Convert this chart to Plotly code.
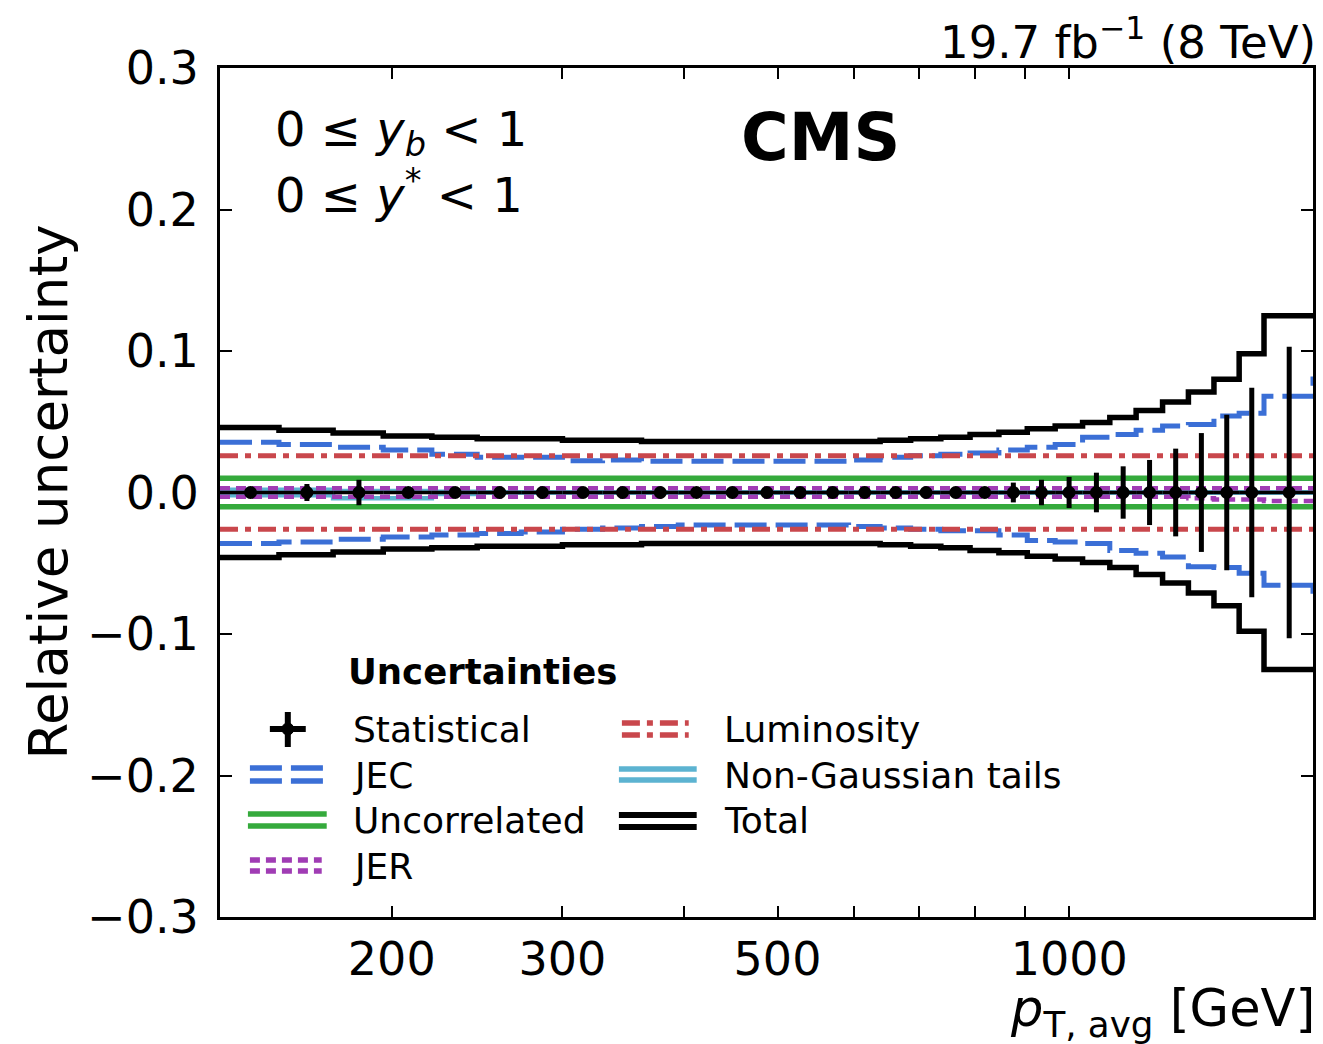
import math
import plotly.graph_objects as go

# ---------------- data ----------------
edges = [133, 153, 174, 196, 220, 245, 272, 300, 330, 362, 395, 430, 468, 507, 548,
         592, 638, 686, 737, 790, 846, 905, 967, 1032, 1101, 1172, 1248, 1327, 1410,
         1497, 1588, 1784]

total_unc = [0.046, 0.044, 0.042, 0.040, 0.039, 0.038, 0.038, 0.037, 0.037, 0.036,
             0.036, 0.036, 0.036, 0.036, 0.036, 0.036, 0.037, 0.038, 0.039, 0.041,
             0.0425, 0.045, 0.047, 0.0495, 0.053, 0.058, 0.064, 0.071, 0.080, 0.098, 0.125]

jec_up = [0.0355, 0.034, 0.032, 0.030, 0.027, 0.025, 0.025, 0.0225, 0.023, 0.022,
          0.022, 0.022, 0.022, 0.022, 0.022, 0.023, 0.025, 0.026, 0.027, 0.028,
          0.030, 0.032, 0.034, 0.039, 0.041, 0.044, 0.047, 0.048, 0.054, 0.056, 0.068]
jec_up_edge = 0.082
jec_down = [-0.036, -0.035, -0.033, -0.0315, -0.030, -0.029, -0.028, -0.026, -0.025, -0.024,
            -0.023, -0.023, -0.023, -0.023, -0.023, -0.024, -0.025, -0.026, -0.027, -0.027,
            -0.030, -0.034, -0.035, -0.036, -0.041, -0.043, -0.0455, -0.0525, -0.053, -0.057, -0.0655]
jec_down_edge = -0.078

lumi_unc = 0.026
uncorr_unc = 0.010

jer_up = [0.003] * 31
jer_down = [-0.003] * 27 + [-0.004, -0.005, -0.005, -0.006]

ngt_up = [0.002, 0.002, 0.001, 0.001, 0.0005] + [0.0] * 26
ngt_down = [-0.002, -0.002, -0.004, -0.004, -0.001] + [0.0] * 26

stat_unc = [0.004, 0.006, 0.009, 0.003, 0.002, 0.002, 0.002, 0.002, 0.002, 0.002,
            0.002, 0.002, 0.002, 0.002, 0.002, 0.002, 0.002, 0.002, 0.003, 0.004,
            0.007, 0.009, 0.011, 0.014, 0.0185, 0.023, 0.031, 0.042, 0.055, 0.074, 0.103]

x_tick_vals = [200, 300, 500, 1000]
x_tick_text = ["200", "300", "500", "1000"]
x_minor_vals = [400, 600, 700, 800, 900]
y_tick_vals = [-0.3, -0.2, -0.1, 0.0, 0.1, 0.2, 0.3]
y_tick_text = ["\u22120.3", "\u22120.2", "\u22120.1", "0.0", "0.1", "0.2", "0.3"]

# ---------------- colours / styles ----------------
C_JEC = "#3b6fd6"
C_LUMI = "#c9474c"
C_UNC = "#35aa3c"
C_JER = "#a03cb4"
C_NGT = "#5cb3d1"
C_TOT = "black"
FONT = "DejaVu Sans"

DASH_JEC = "32px,9px"
DASH_LUMI = "18px,7px,6px,7px"
DASH_JER = "10px,6px"

# plot-area pixel geometry (for legend / text placement)
L, R, T, B = 220, 1316, 68, 917


def px_x(px):
    return (px - L) / (R - L)


def px_y(py):
    return (B - py) / (B - T)


fig = go.Figure()


def add_step(vals, color, width, dash="solid", edge_val=None):
    y = list(vals) + [vals[-1] if edge_val is None else edge_val]
    fig.add_trace(go.Scatter(x=edges, y=y, mode="lines", line_shape="hv",
                             line=dict(color=color, width=width, dash=dash),
                             showlegend=False, hoverinfo="skip"))


nb = len(edges) - 1
add_step(jec_up, C_JEC, 5, DASH_JEC, jec_up_edge)
add_step(jec_down, C_JEC, 5, DASH_JEC, jec_down_edge)
add_step([lumi_unc] * nb, C_LUMI, 5, DASH_LUMI)
add_step([-lumi_unc] * nb, C_LUMI, 5, DASH_LUMI)
add_step([uncorr_unc] * nb, C_UNC, 5.5)
add_step([-uncorr_unc] * nb, C_UNC, 5.5)
add_step(ngt_up, C_NGT, 4.5)
add_step(ngt_down, C_NGT, 4.5)
add_step(jer_up, C_JER, 4.5, DASH_JER)
add_step(jer_down, C_JER, 4.5, DASH_JER)
add_step(total_unc, C_TOT, 5.5)
add_step([-v for v in total_unc], C_TOT, 5.5)

# statistical: points at bin centres with x-extent = bin
centers = [(edges[i] + edges[i + 1]) / 2 for i in range(nb)]
xplus = [edges[i + 1] - centers[i] for i in range(nb)]
xminus = [centers[i] - edges[i] for i in range(nb)]
fig.add_trace(go.Scatter(
    x=centers, y=[0.0] * nb, mode="markers",
    marker=dict(color="black", size=13, symbol="circle"),
    error_y=dict(type="data", array=stat_unc, symmetric=True, color="black",
                 thickness=5, width=0),
    error_x=dict(type="data", array=xplus, arrayminus=xminus, color="black",
                 thickness=3.5, width=0),
    showlegend=False, hoverinfo="skip"))

# ---------------- annotations ----------------
annotations = []


def ann(text, px, py, size, xanchor="left", yanchor="middle", angle=0):
    annotations.append(dict(text=text, x=px_x(px), y=px_y(py), xref="paper", yref="paper",
                            xanchor=xanchor, yanchor=yanchor, showarrow=False,
                            textangle=angle,
                            font=dict(family=FONT, size=size, color="black")))


ann("19.7 fb<sup>\u22121</sup> (8 TeV)", 1321, 40, 45, xanchor="right")
ann("<b>CMS</b>", 822, 137, 65, xanchor="center")
ann("0 \u2264 <i>y</i><sub><i>b</i></sub> &lt; 1", 273, 132, 48)
ann("0 \u2264 <i>y</i><sup>*</sup> &lt; 1", 273, 192, 48)
ann("Relative uncertainty", 48, 492, 53, xanchor="center", angle=-90)
ann("<i>p</i><sub>T, avg</sub> [GeV]", 1320, 1012, 51, xanchor="right")

# legend
ann("<b>Uncertainties</b>", 346, 671, 35.5)
left_labels = ["Statistical", "JEC", "Uncorrelated", "JER"]
right_labels = ["Luminosity", "Non-Gaussian tails", "Total"]
rows = [729, 775, 820, 866]
for lab, py in zip(left_labels, rows):
    ann(lab, 351, py, 36)
for lab, py in zip(right_labels, rows):
    ann(lab, 723, py, 36)

shapes = []


def seg(x0, x1, py, color, width, dash="solid"):
    shapes.append(dict(type="line", xref="paper", yref="paper",
                       x0=px_x(x0), x1=px_x(x1), y0=px_y(py), y1=px_y(py),
                       line=dict(color=color, width=width, dash=dash)))


# statistical handle (cross)
shapes.append(dict(type="line", xref="paper", yref="paper",
                   x0=px_x(270), x1=px_x(306), y0=px_y(729), y1=px_y(729),
                   line=dict(color="black", width=6)))
shapes.append(dict(type="line", xref="paper", yref="paper",
                   x0=px_x(288), x1=px_x(288), y0=px_y(712), y1=px_y(747),
                   line=dict(color="black", width=6)))
shapes.append(dict(type="circle", xref="paper", yref="paper",
                   x0=px_x(282), x1=px_x(294), y0=px_y(723), y1=px_y(735),
                   line=dict(color="black", width=1), fillcolor="black"))
# JEC
seg(250, 324, 768, C_JEC, 5.5, DASH_JEC)
seg(250, 324, 781, C_JEC, 5.5, DASH_JEC)
# Uncorrelated
seg(248, 327, 814, C_UNC, 5.5)
seg(248, 327, 826, C_UNC, 5.5)
# JER
seg(250, 322, 860, C_JER, 5.5, DASH_JER)
seg(250, 322, 871, C_JER, 5.5, DASH_JER)
# Luminosity
seg(623, 690, 723, C_LUMI, 5.5, DASH_LUMI)
seg(623, 690, 735, C_LUMI, 5.5, DASH_LUMI)
# Non-Gaussian tails
seg(620, 698, 769, C_NGT, 5.5)
seg(620, 698, 780, C_NGT, 5.5)
# Total
seg(620, 698, 815, C_TOT, 6)
seg(620, 698, 827, C_TOT, 6)

# ---------------- layout ----------------
axis_common = dict(showline=True, linewidth=3, linecolor="black", mirror="ticks",
                   ticks="inside", tickwidth=1.5, tickcolor="black", showgrid=False,
                   zeroline=False, tickfont=dict(family=FONT, size=46, color="black"))

fig.update_layout(
    width=1323, height=1044,
    margin=dict(l=L, r=1323 - R, t=T, b=1044 - B),
    paper_bgcolor="white", plot_bgcolor="white",
    showlegend=False,
    xaxis=dict(type="log", range=[math.log10(edges[0]), math.log10(edges[-1])],
               tickmode="array", tickvals=x_tick_vals, ticktext=x_tick_text, ticklen=11,
               minor=dict(tickmode="array", tickvals=x_minor_vals, ticks="inside",
                          ticklen=11, tickwidth=1.5, tickcolor="black", showgrid=False),
               ticklabelstandoff=0,
               **axis_common),
    yaxis=dict(range=[-0.3, 0.3], tickmode="array", tickvals=y_tick_vals,
               ticktext=y_tick_text, ticklen=12, ticklabelstandoff=9, **axis_common),
    annotations=annotations,
    shapes=shapes,
)

fig.write_html("out.html")
